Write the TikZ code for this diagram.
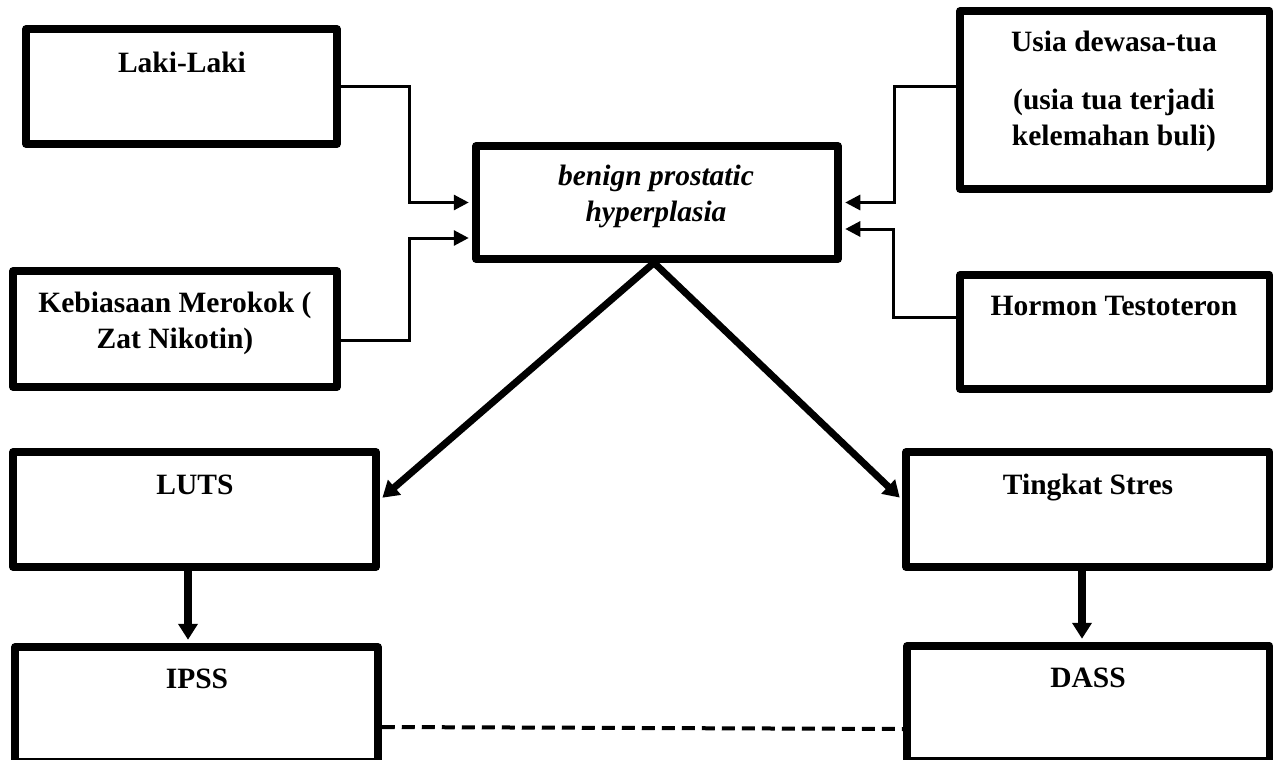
\documentclass[tikz,border=0pt]{standalone}
\usepackage{fontspec}
\setmainfont{Liberation Serif}
\usetikzlibrary{arrows.meta}
\begin{document}
\begin{tikzpicture}[x=1pt,y=-1pt,
  box/.style={draw=black, fill=white, line width=7.5pt, line join=round, inner sep=0pt},
  lbl/.style={anchor=base, inner sep=0pt, font=\fontsize{29.5}{36}\selectfont\bfseries},
  thinarr/.style={line width=3pt, -{Triangle[length=15pt,width=15pt]}, shorten >=3.5pt},
  thickarr/.style={line width=7pt, -{Triangle[length=16pt,width=19pt]}, shorten >=3.5pt},
  dashline/.style={line width=4pt, dash pattern=on 13pt off 7pt}
]
\fill[white] (0,0) rectangle (1274,760);
\useasboundingbox (0,0) rectangle (1274,760);

% boxes
\node[box, minimum width=311pt, minimum height=115pt] (laki) at (181.5,86.5) {};
\node[box, minimum width=324pt, minimum height=116pt] (keb) at (175,329) {};
\node[box, minimum width=362pt, minimum height=113pt] (bph) at (657,202.5) {};
\node[box, minimum width=309.5pt, minimum height=178pt] (usia) at (1114.75,100) {};
\node[box, minimum width=309.5pt, minimum height=114pt] (hormon) at (1114.75,332) {};
\node[box, minimum width=363pt, minimum height=115pt] (luts) at (194.5,509.5) {};
\node[box, minimum width=363pt, minimum height=115pt] (ipss) at (196.5,704.5) {};
\node[box, minimum width=363.5pt, minimum height=115pt] (tingkat) at (1087.75,509.5) {};
\node[box, minimum width=362.5pt, minimum height=115pt] (dass) at (1088.25,703.5) {};

% labels
\node[lbl] (lakiT) at (182,72) {Laki-Laki};
\node[lbl] (kebT) at (175,312) {\begin{tabular}[t]{@{}c@{}}Kebiasaan Merokok (\\ Zat Nikotin)\end{tabular}};
\node[lbl, font=\fontsize{29.5}{36}\selectfont\bfseries\itshape] (bphT) at (656,185) {\begin{tabular}[t]{@{}c@{}}benign prostatic\\ hyperplasia\end{tabular}};
\node[lbl] (usiaT) at (1114,52) {\begin{tabular}[t]{@{}c@{}}Usia dewasa-tua\\[22pt] (usia tua terjadi\\ kelemahan buli)\end{tabular}};
\node[lbl] (hormonT) at (1114,315) {Hormon Testoteron};
\node[lbl] (lutsT) at (195,494) {LUTS};
\node[lbl] (ipssT) at (197,688) {IPSS};
\node[lbl] (tingkatT) at (1088,494) {Tingkat Stres};
\node[lbl] (dassT) at (1088,687) {DASS};

% connectors to central box
\draw[thinarr] (laki.east) -- ++(69,0) |- (bph.west);
\draw[thinarr] ([yshift=-11pt]keb.east) -- ++(69,0) |- ([yshift=-35.5pt]bph.west);
\draw[thinarr] ([yshift=14pt]usia.west) -- ++(-62,0) |- (bph.east);
\draw[thinarr] ([yshift=15pt]hormon.west) -- ++(-63,0) |- ([yshift=-26.5pt]bph.east);

% diagonals
\draw[thickarr] ([xshift=-3pt]bph.south) -- ([yshift=9.5pt]luts.east);
\draw[thickarr] ([xshift=-3pt]bph.south) -- ([yshift=9.5pt]tingkat.west);

% verticals
\draw[thickarr, line width=8pt] ([xshift=-6.5pt]luts.south) -- ([xshift=-8.5pt]ipss.north);
\draw[thickarr, line width=8pt] ([xshift=-5.75pt]tingkat.south) -- ([xshift=-6.25pt]dass.north);

% dashed relation
\draw[dashline] ([yshift=-22.5pt]ipss.east) -- ([yshift=-25.5pt]dass.west);
\end{tikzpicture}
\end{document}
